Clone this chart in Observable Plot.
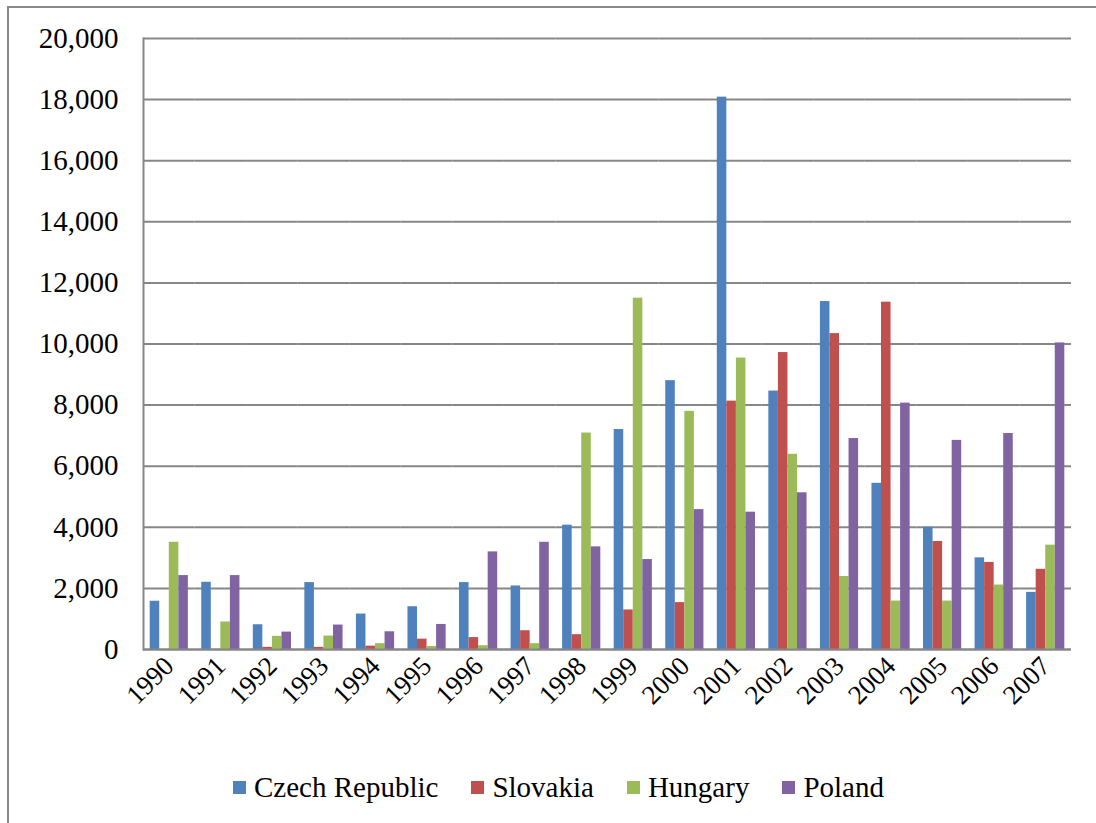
<!DOCTYPE html>
<html>
<head>
<meta charset="utf-8">
<script src="https://cdn.jsdelivr.net/npm/d3@7"></script>
<script src="https://cdn.jsdelivr.net/npm/@observablehq/plot@0.6"></script>
<style>
  html, body { margin: 0; padding: 0; background: #fff; }
  body { width: 1096px; height: 823px; position: relative; overflow: hidden; font-family: "Liberation Serif", "Times New Roman", serif; }
  #frame { position: absolute; left: 7px; top: 6px; width: 1110px; height: 840px; border: 2px solid #898989; box-sizing: border-box; }
  #chart { position: absolute; left: 0; top: 0; }
  #legend { position: absolute; left: 233px; top: 770px; display: flex; align-items: center; font-size: 29px; color: #000; line-height: 34px; }
  .item { display: flex; align-items: center; margin-right: 33px; }
  .sw { width: 13px; height: 13px; margin-right: 8px; }
</style>
</head>
<body>
<div id="frame"></div>
<div id="chart"></div>
<div id="legend"></div>
<script>
const years = ["1990","1991","1992","1993","1994","1995","1996","1997","1998","1999","2000","2001","2002","2003","2004","2005","2006","2007"];
const series = ["Czech Republic", "Slovakia", "Hungary", "Poland"];
const colors = ["#4F81BD", "#C0504D", "#9BBB59", "#8064A2"];
const czech    = [1580, 2200, 810, 2190, 1160, 1400, 2190, 2080, 4070, 7200, 8800, 18080, 8460, 11390, 5440, 4000, 3000, 1870];
const slovakia = [0, 0, 70, 70, 110, 340, 390, 615, 485, 1295, 1535, 8130, 9720, 10340, 11370, 3535, 2850, 2625];
const hungary  = [3510, 900, 430, 440, 190, 100, 125, 190, 7085, 11500, 7795, 9540, 6390, 2390, 1585, 1585, 2110, 3415];
const poland   = [2420, 2420, 570, 800, 580, 820, 3195, 3510, 3360, 2945, 4580, 4495, 5130, 6905, 8065, 6845, 7070, 10035];
const yTicks = [0, 2000, 4000, 6000, 8000, 10000, 12000, 14000, 16000, 18000, 20000];

const values = [czech, slovakia, hungary, poland];
const data = years.flatMap((yr, i) => series.map((s, j) => ({year: yr, series: s, value: values[j][i]})));

const grey = "#878787";
const serif = "'Liberation Serif', 'Times New Roman', serif";
const chart = Plot.plot({
  width: 1096,
  height: 740,
  marginLeft: 143,
  marginRight: 25,
  marginTop: 38,
  marginBottom: 91,
  style: {fontFamily: serif, fontSize: "28px", background: "transparent", color: "#000"},
  fx: {domain: years, padding: 0, round: false, label: null},
  x: {domain: series, paddingInner: 0, paddingOuter: 0.7, round: false, axis: null},
  y: {domain: [0, 20000], label: null},
  color: {domain: series, range: colors},
  marks: [
    Plot.gridY(yTicks, {stroke: grey, strokeOpacity: 1, strokeWidth: 2}),
    Plot.barY(data, {fx: "year", x: "series", y: "value", fill: "series"}),
    Plot.ruleY([0], {stroke: grey, strokeWidth: 2}),
    Plot.axisY(yTicks, {tickSize: 0, tickPadding: 25, tickFormat: d3.format(","), fontSize: 29, fontFamily: serif, label: null}),
    Plot.axisFx({anchor: "bottom", tickRotate: -45, tickSize: 0, tickPadding: 12, fontSize: 27, fontFamily: serif, label: null}),
    Plot.frame({anchor: "left", facet: "super", stroke: grey, strokeWidth: 2})
  ]
});
document.getElementById("chart").append(chart);

const legend = document.getElementById("legend");
series.forEach((s, i) => {
  const item = document.createElement("div");
  item.className = "item";
  const sw = document.createElement("div");
  sw.className = "sw";
  sw.style.background = colors[i];
  const t = document.createElement("span");
  t.textContent = s;
  item.append(sw, t);
  legend.append(item);
});
</script>
</body>
</html>
